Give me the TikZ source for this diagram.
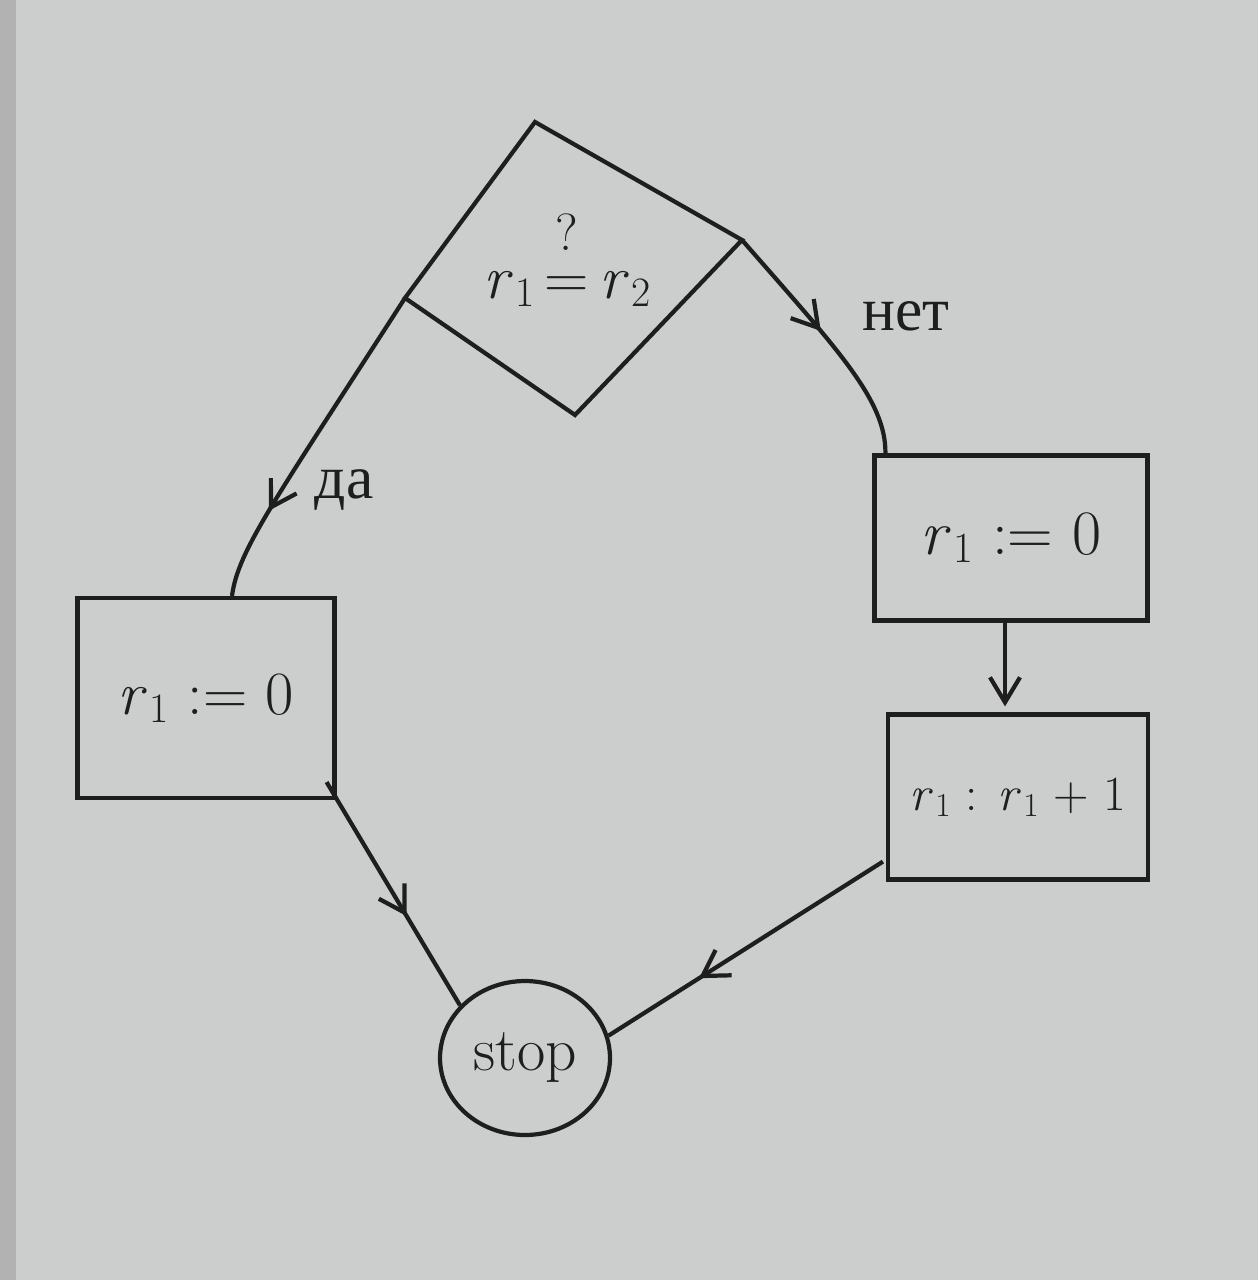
\documentclass[tikz,border=0pt]{standalone}
\usepackage{fontspec}
\newfontfamily\cyr{Liberation Serif}
\usetikzlibrary{arrows.meta,decorations.markings,calc,shapes.geometric}
\definecolor{paper}{RGB}{204,205,205}
\definecolor{ink}{RGB}{30,30,30}
\newcommand\rsub[1]{\textit{r}\kern0.04em\raisebox{-0.3ex}{\scalebox{0.68}{#1}}}
\begin{document}
\begin{tikzpicture}[x=0.02cm,y=-0.02cm,
  ink line/.style={draw=ink,line width=2.4pt},
  box/.style={draw=ink,line width=2.4pt,inner sep=0pt,text=ink},
  lbl/.style={font=\cyr\fontsize{35}{40}\selectfont,text=ink},
  tip/.style={-{Straight Barb[length=5mm,width=6mm]}},
  midarrow/.style={postaction={decorate},decoration={markings,mark=at position #1 with {\arrow{Straight Barb[length=5mm,width=6mm]}}}}
]
\useasboundingbox (0,0) rectangle (1258,1280);
\fill[paper] (0,0) rectangle (1258,1280);
\fill[gray!60] (0,0) rectangle (16,1280);

% decision diamond
\coordinate (dl) at (405,298);
\coordinate (dt) at (535,122);
\coordinate (dr) at (742,240);
\coordinate (db) at (575,415);
\draw[ink line] (dl) -- (dt) -- (dr) -- (db) -- cycle;
\node[font=\fontsize{35}{40}\selectfont,text=ink] (q) at (567,260) {\rsub{1}\,\shortstack[c]{\scalebox{0.85}{?}\\[0.35em]=}\,\rsub{2}};

% boxes
\node[box,minimum width=5.14cm,minimum height=4cm,font=\fontsize{35}{40}\selectfont] (lb) at (206,698) {\rsub{1} := 0};
\node[box,minimum width=5.46cm,minimum height=3.3cm,font=\fontsize{36}{42}\selectfont] (rb1) at (1011,538) {\rsub{1} := 0};
\node[box,minimum width=5.2cm,minimum height=3.3cm,font=\fontsize{28}{34}\selectfont] (rb2) at (1018,797) {\rsub{1} : \rsub{1} + 1};
\node[draw=ink,line width=2.4pt,ellipse,inner sep=0pt,minimum width=3.4cm,minimum height=3.08cm,font=\fontsize{35}{40}\selectfont,text=ink] (stop) at (525,1058) {stop};

% connectors
\coordinate (a1) at ($(rb1.south)+(-6,0)$);
\draw[ink line,midarrow=0.73] (dl) .. controls (275,500) and (238,550) .. ($(lb.north)+(26,0)$);
\node[lbl] (da) at (344,490) {да};
\draw[ink line,midarrow=0.46] (dr) .. controls (838,350) and (886,400) .. ($(rb1.north west)+(13,0)$);
\node[lbl] (net) at (906,316) {нет};
\draw[ink line,tip] (a1) -- ($(a1 |- rb2.north)+(0,-6)$);
\draw[ink line,midarrow=0.6] ($(lb.south east)+(-10,-18)$) -- (stop.141);
\draw[ink line,midarrow=0.67] ($(rb2.south west)+(-3,-20)$) -- (stop.15);
\end{tikzpicture}
\end{document}
